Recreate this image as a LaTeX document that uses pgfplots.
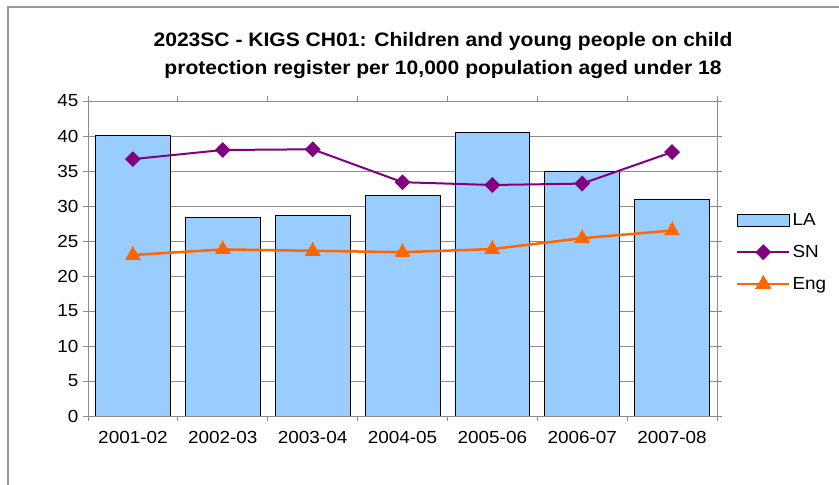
\documentclass[border=0pt]{standalone}
\usepackage{pgfplots}
\pgfplotsset{compat=1.18}
\usepackage{fontspec}
\setmainfont{Liberation Sans}[FakeStretch=1.08]
\definecolor{barblue}{HTML}{99CCFF}
\definecolor{snpurple}{HTML}{800080}
\definecolor{engorange}{HTML}{FF6600}
\definecolor{framegray}{HTML}{999999}
\definecolor{gridgray}{HTML}{8C8C8C}
\pgfplotsset{
  mylinelegend/.style={legend image code/.code={\draw[mark repeat=2, mark phase=2, ##1] plot coordinates {(0pt,0pt) (26pt,0pt) (52pt,0pt)};}},
  mybarlegend/.style={legend image code/.code={\draw[fill=barblue, draw=black, line width=0.8pt] (0pt,-6pt) rectangle (52pt,6pt);}},
}
\begin{document}
\begin{tikzpicture}[x=1pt,y=1pt]
\useasboundingbox (0,0) rectangle (839,485);
\draw[framegray, line width=2pt] (8,0) -- (8,478) -- (839,478);
\node[align=center, font=\fontsize{19.5}{28}\selectfont\bfseries] at (443,429)
  {2023SC - KIGS CH01: Children and young people on child\\protection register per 10,000 population aged under 18};
\begin{axis}[
  at={(88pt,69pt)}, anchor=south west, scale only axis,
  width=629pt, height=315pt,
  xmin=-0.5, xmax=6.5, ymin=0, ymax=45,
  ytick={0,5,...,45},
  xtick={-0.5,0.5,...,6.5},
  x tick label as interval,
  xticklabels={2001-02,2002-03,2003-04,2004-05,2005-06,2006-07,2007-08},
  tick align=outside,
  major tick length=5pt,
  tick style={gridgray, line width=0.8pt},
  ymajorgrids, grid style={gridgray, line width=0.8pt},
  axis line style={gridgray, line width=0.8pt},
  /pgf/number format/assume math mode=true,
  ticklabel style={font=\fontsize{17.5}{20}\selectfont},
  xticklabel style={yshift=-7pt},
  yticklabel style={xshift=-1pt},
  legend style={at={(axis description cs:1.03,0.52)}, anchor=west, draw=none, fill=none,
    font=\fontsize{17.5}{20}\selectfont, row sep=14pt, inner sep=0pt,
    /tikz/every even column/.append style={column sep=5pt}},
  legend cell align=left,
]
\addplot[ybar, bar width=0.833, fill=barblue, draw=black, line width=0.8pt, mybarlegend]
  coordinates {(0,40.1) (1,28.4) (2,28.6) (3,31.5) (4,40.5) (5,35.0) (6,31.0)};
\addlegendentry{LA}
\addplot[snpurple, line width=2pt, mark=square*, mark size=4.6pt, mark options={rotate=45, solid, fill=snpurple}, mylinelegend]
  coordinates {(0,36.7) (1,38.0) (2,38.1) (3,33.4) (4,33.0) (5,33.2) (6,37.7)};
\addlegendentry{SN}
\addplot[engorange, line width=2.5pt, mark=triangle*, mark size=8.5pt, mark options={solid, fill=engorange, line width=0pt}, mylinelegend]
  coordinates {(0,23.0) (1,23.8) (2,23.6) (3,23.4) (4,23.85) (5,25.4) (6,26.5)};
\addlegendentry{Eng}
\end{axis}
\end{tikzpicture}
\end{document}
